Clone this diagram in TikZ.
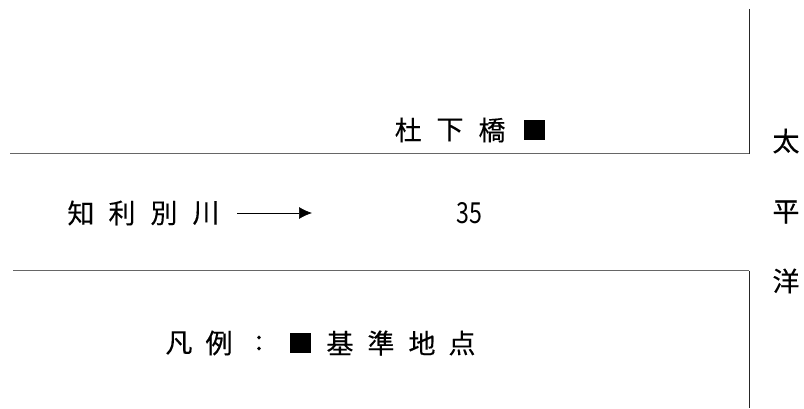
\documentclass[tikz,border=0pt]{standalone}
\usepackage{fontspec}
\usetikzlibrary{arrows.meta}
\setmainfont{Noto Sans CJK JP}
\setsansfont{Noto Sans CJK JP}
\newfontfamily\gothic[FakeBold=0.25]{Noto Sans CJK JP}
\newfontfamily\narrowdigits[FakeStretch=0.8]{Noto Sans CJK JP}
\begin{document}
\begin{tikzpicture}[x=1pt,y=-1pt,
  lab/.style={inner sep=0pt,font=\gothic\fontsize{27}{29}\selectfont,text=black,anchor=center},
  num/.style={inner sep=0pt,font=\narrowdigits\fontsize{29}{31}\selectfont,text=black,anchor=center},
  hwall/.style={draw=black!60,line width=1.2pt},
  vwall/.style={draw=black!85,line width=0.8pt},
  arrowline/.style={draw=black,line width=0.7pt,-{Latex[length=13pt,width=12pt]}},
  pt/.style={fill=black,draw=none,minimum width=21pt,minimum height=20pt,inner sep=0pt}]
\useasboundingbox (0,0) rectangle (804,409);
\fill[white] (0,0) rectangle (804,409);
\coordinate (a1) at (749,9); \coordinate (a2) at (749,153.7); \coordinate (a3) at (10,153.7);
\coordinate (b1) at (13,270.7); \coordinate (b2) at (749,270.7); \coordinate (b3) at (749,408);
\draw[vwall] (a1) -- (a2);
\draw[hwall] (a2) -- (a3);
\draw[hwall] (b1) -- (b2);
\draw[vwall] (b2) -- (b3);
\node[lab] (m1) at (408.3,130) {杜};
\node[lab] (m2) at (450,130) {下};
\node[lab] (m3) at (492,130) {橋};
\node[pt] (m4) at (534.5,130.5) {};
\node[lab] (r1) at (81,213) {知};
\node[lab] (r2) at (122,213) {利};
\node[lab] (r3) at (164,213) {別};
\node[lab] (r5) at (206,213) {川};
\coordinate (ar1) at (237,213); \coordinate (ar2) at (312,213);
\draw[arrowline] (ar1) -- (ar2);
\node[num] (n) at (469,213) {35};
\node[lab] (t1) at (786,141) {太};
\node[lab] (t2) at (786,212) {平};
\node[lab] (t3) at (786,281) {洋};
\node[lab] (l1) at (179,343) {凡};
\node[lab] (l2) at (219,343) {例};
\node[lab] (l3) at (259,343) {:};
\node[pt] (l4) at (300.5,343) {};
\node[lab] (l5) at (340,343) {基};
\node[lab] (l6) at (381,343) {準};
\node[lab] (l7) at (422,343) {地};
\node[lab] (l8) at (462,343) {点};
\end{tikzpicture}
\end{document}
